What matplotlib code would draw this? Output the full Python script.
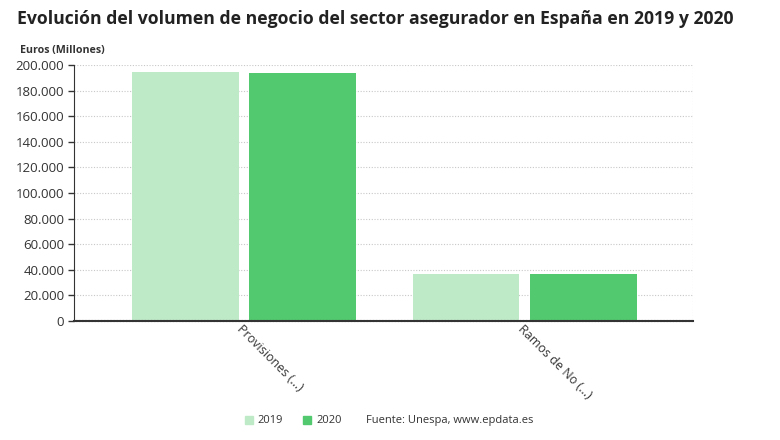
import matplotlib
matplotlib.use("Agg")
import matplotlib.pyplot as plt
import numpy as np

plt.rcParams['font.family'] = ['Open Sans', 'DejaVu Sans']

# data
categorias = ["Provisiones (...)", "Ramos de No (...)"]
valores_2019 = [194500, 36700]
valores_2020 = [193400, 37100]
yticks = [0, 20000, 40000, 60000, 80000, 100000, 120000, 140000, 160000, 180000, 200000]
ytick_labels = ["0", "20.000", "40.000", "60.000", "80.000", "100.000", "120.000",
                "140.000", "160.000", "180.000", "200.000"]

color_2019 = "#bfeac8"
color_2020 = "#52c96e"

fig = plt.figure(figsize=(7.8, 4.4), dpi=100)
ax = fig.add_axes([74/780, 1 - 321/440, (693-74)/780, (321-65)/440])

x = np.arange(len(categorias))
ancho = 0.38
ax.bar(x - 0.209, valores_2019, width=ancho, color=color_2019, zorder=2)
ax.bar(x + 0.209, valores_2020, width=ancho, color=color_2020, zorder=2)

ax.set_xlim(-0.605, 1.6)
ax.set_ylim(0, 200000)
ax.set_yticks(yticks)
ax.set_yticklabels(ytick_labels, fontsize=9.5, color="#333333")
ax.set_xticks(x)
ax.set_xticklabels(categorias, rotation=-45, ha="left", va="top",
                   rotation_mode="anchor", fontsize=9, color="#333333")
ax.tick_params(axis="x", length=0, pad=1)
ax.tick_params(axis="y", length=4, width=1, color="#333333", pad=3)

ax.grid(axis="y", linestyle=(0, (1, 1.5)), color="#c8c8c8", linewidth=0.8, zorder=0)
ax.grid(axis="x", visible=False)
for s in ["top", "right"]:
    ax.spines[s].set_visible(False)
ax.spines["left"].set_linestyle((0, (1, 1)))
ax.spines["left"].set_color("#333333")
ax.spines["bottom"].set_color("#333333")
ax.spines["bottom"].set_linewidth(1.5)
ax.spines["bottom"].set_linestyle((0, (1, 0.5)))
# borde derecho punteado
ax.axvline(1.6, color="#c8c8c8", linestyle=(0, (1, 1.5)), linewidth=0.8)

fig.text(375/780, 1 - 19/440, "Evolución del volumen de negocio del sector asegurador en España en 2019 y 2020",
         ha="center", va="center", fontsize=12.7, fontweight="bold", color="#222222")
fig.text(20/780, 1 - 50/440, "Euros (Millones)", ha="left", va="center",
         fontsize=7.7, fontweight="bold", color="#333333")

# leyenda
fig.patches.append(plt.Rectangle((245/780, 1 - 424/440), 8/780, 8/440,
                                 transform=fig.transFigure, color=color_2019))
fig.text(257/780, 1 - 420/440, "2019", fontsize=8, va="center", color="#333333")
fig.patches.append(plt.Rectangle((303/780, 1 - 424/440), 8/780, 8/440,
                                 transform=fig.transFigure, color=color_2020))
fig.text(316/780, 1 - 420/440, "2020", fontsize=8, va="center", color="#333333")
fig.text(366/780, 1 - 420/440, "Fuente: Unespa, www.epdata.es", fontsize=8,
         va="center", color="#333333")

fig.savefig("out.png", dpi=100)
